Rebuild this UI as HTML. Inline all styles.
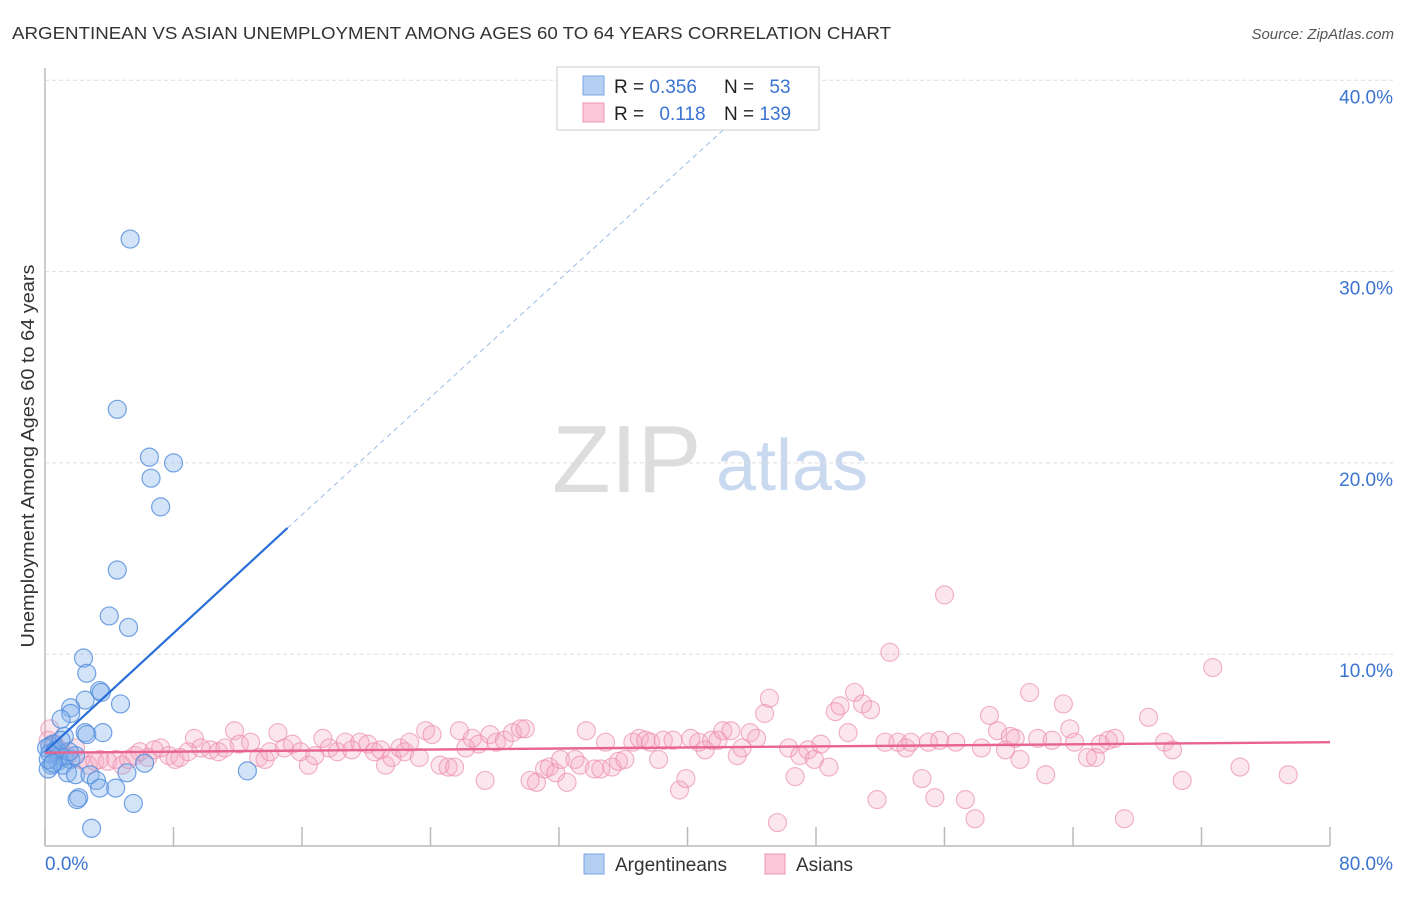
<!DOCTYPE html>
<html><head><meta charset="utf-8"><style>
body{margin:0;background:#fff;font-family:"Liberation Sans",sans-serif;}
svg text{font-family:"Liberation Sans",sans-serif;}
</style></head><body>
<svg id="chart" width="1406" height="892" xmlns="http://www.w3.org/2000/svg">
<text x="12" y="39" font-size="17.5" fill="#333" textLength="879" lengthAdjust="spacingAndGlyphs">ARGENTINEAN VS ASIAN UNEMPLOYMENT AMONG AGES 60 TO 64 YEARS CORRELATION CHART</text>
<text x="1394" y="39" font-size="15" fill="#555" font-style="italic" text-anchor="end">Source: ZipAtlas.com</text>
<g>
<text x="552" y="492" font-size="96" fill="#ddd" font-family="Liberation Serif">ZIP</text>
<text x="716" y="490" font-size="72" fill="#c9d9f0">atlas</text>
</g>
<g id="grid"></g>
<g id="axes"></g>
<g id="marks"></g>
<text transform="translate(34,456) rotate(-90)" font-size="18" fill="#333" text-anchor="middle" textLength="383" lengthAdjust="spacingAndGlyphs">Unemployment Among Ages 60 to 64 years</text>
<g>
<rect x="557" y="67" width="262" height="63" fill="#fff" stroke="#ccc"/>
<rect x="583" y="76" width="21" height="19" fill="#b5cff3" stroke="#7aa6e3"/>
<rect x="583" y="103" width="21" height="19" fill="#fac8d8" stroke="#ec94b0"/>
<text x="614" y="93" font-size="19" fill="#222">R = <tspan fill="#3a73d0">0.356</tspan></text>
<text x="724" y="93" font-size="19" fill="#222">N = <tspan fill="#3a73d0" dx="10">53</tspan></text>
<text x="614" y="120" font-size="19" fill="#222">R = <tspan fill="#3a73d0" dx="10">0.118</tspan></text>
<text x="724" y="120" font-size="19" fill="#222">N = <tspan fill="#3a73d0">139</tspan></text>
</g>
<g>
<rect x="584" y="854" width="20" height="20" fill="#b5cff3" stroke="#7aa6e3"/>
<text x="615" y="871" font-size="19" fill="#333">Argentineans</text>
<rect x="765" y="854" width="20" height="20" fill="#fac8d8" stroke="#ec94b0"/>
<text x="796" y="871" font-size="19" fill="#333">Asians</text>
</g>
</svg>
<script>
const yTicks=[10,20,30,40];
const yTickLabels=["10.0%","20.0%","30.0%","40.0%"];
const xTicks=[0,8,16,24,32,40,48,56,64,72,80];
const xEndLabels=["0.0%","80.0%"];
const blueX=[5.3,4.5,6.5,8.0,6.6,7.2,4.5,4.0,5.2,2.4,2.6,3.4,3.5,4.7,2.5,1.6,1.6,1.0,3.6,2.5,2.6,1.2,0.5,0.3,0.1,0.6,0.9,1.2,0.8,0.4,0.2,1.1,1.6,1.9,1.4,1.9,2.8,5.1,6.2,12.6,3.2,3.4,4.4,2.1,2.0,5.5,2.9,0.3,0.7,1.5,0.2,1.0,0.5];
const blueY=[31.7,22.8,20.3,20.0,19.2,17.7,14.4,12.0,11.4,9.8,9.0,8.1,8.0,7.4,7.6,7.2,6.9,6.6,5.9,5.9,5.8,5.7,5.3,5.2,5.1,4.9,4.7,4.6,4.4,4.2,4.0,4.2,4.5,4.7,3.8,3.7,3.7,3.8,4.3,3.9,3.4,3.0,3.0,2.5,2.4,2.2,0.9,4.8,5.0,4.9,4.5,5.5,4.3];
const pinkX=[0.3,0.2,0.6,0.9,1.4,1.9,2.2,2.7,3.1,3.4,3.9,4.4,4.8,5.2,5.6,5.9,6.4,6.8,7.2,7.7,8.1,8.4,8.9,9.3,9.7,10.3,10.8,11.2,11.8,12.1,12.8,13.3,13.7,14.0,14.5,14.9,15.4,15.9,16.4,16.8,17.3,17.7,18.2,18.7,19.1,19.6,20.1,20.5,20.9,21.2,21.6,22.1,22.4,22.7,23.3,23.7,24.1,24.6,25.1,25.5,25.8,26.2,26.6,27.0,27.4,27.7,28.1,28.6,29.1,29.6,29.9,30.2,30.6,31.1,31.4,31.8,32.1,32.5,33.0,33.3,33.7,34.2,34.6,34.9,35.3,35.7,36.1,36.6,37.0,37.4,37.7,38.2,38.5,39.1,39.5,39.9,40.2,40.7,41.1,41.5,41.9,42.2,42.7,43.1,43.4,43.9,44.3,44.8,45.1,45.6,46.3,46.7,47.0,47.5,47.9,48.3,48.8,49.2,49.5,50.0,50.4,50.9,51.4,51.8,52.3,52.6,53.1,53.6,53.9,54.6,55.0,55.4,55.7,56.0,56.7,57.3,57.9,58.3,58.8,59.3,59.8,60.1,60.4,60.7,61.3,61.8,62.3,62.7,63.4,63.8,64.1,64.9,65.4,65.7,66.2,66.6,67.2,68.7,69.7,70.2,70.8,72.7,74.4,77.4];
const pinkY=[6.1,5.5,5.3,5.0,4.7,5.1,4.5,4.2,4.4,4.5,4.4,4.5,4.2,4.5,4.7,4.9,4.6,5.0,5.1,4.7,4.5,4.6,4.9,5.6,5.1,5.0,4.9,5.1,6.0,5.3,5.4,4.6,4.5,4.9,5.9,5.1,5.3,4.9,4.2,4.7,5.6,5.1,4.9,5.4,5.0,5.4,5.3,4.9,5.0,4.2,4.6,5.1,4.9,5.4,4.6,6.0,5.8,4.2,4.1,4.1,6.0,5.1,5.6,5.3,3.4,5.8,5.4,5.5,5.9,6.1,6.1,3.4,3.3,4.0,4.1,3.8,4.5,3.3,4.5,4.2,6.0,4.0,4.0,5.4,4.1,4.4,4.5,5.4,5.6,5.5,5.4,4.5,5.5,5.5,2.9,3.5,5.6,5.4,5.0,5.5,5.5,6.0,6.0,4.7,5.1,5.9,5.6,6.9,7.7,1.2,5.1,3.6,4.7,5.0,4.5,5.3,4.1,7.0,7.3,5.9,8.0,7.4,7.1,2.4,5.4,10.1,5.4,5.1,5.4,3.5,5.4,2.5,5.5,13.1,5.4,2.4,1.4,5.1,6.8,6.0,5.0,5.7,5.6,4.5,8.0,5.6,3.7,5.5,7.4,6.1,5.4,4.6,4.6,5.3,5.5,5.6,1.4,6.7,5.4,5.0,3.4,9.3,4.1,3.7];
const blueTrend=[[0,4.9],[15.1,16.6]];
const blueTrendDash=[[15.1,16.6],[43.0,38.0]];
const pinkTrend=[[0,4.85],[80,5.4]];

const X0=45,X1=1330,Y0=845.5,PXY=19.13;
const sx=v=>X0+(v/80)*(X1-X0);
const sy=v=>Y0-v*PXY;
const NS="http://www.w3.org/2000/svg";
function mk(tag,attrs,parent){const e=document.createElementNS(NS,tag);for(const k in attrs)e.setAttribute(k,attrs[k]);parent.appendChild(e);return e;}
const grid=document.getElementById('grid'),axes=document.getElementById('axes'),marks=document.getElementById('marks');
yTicks.forEach((t,i)=>{
  const l=mk('line',{x1:X0,x2:1393,y1:sy(t),y2:sy(t),stroke:'#ddd','stroke-dasharray':'4,3'},grid);
  
  
  const tx=mk('text',{x:1393,y:sy(t)+23,'font-size':19,fill:'#3a73d0','text-anchor':'end'},axes);
  tx.textContent=yTickLabels[i];
  
  
});
const ya=mk('line',{x1:X0,x2:X0,y1:68,y2:846,stroke:'#bbb','stroke-width':1.5},axes);


const xa=mk('line',{x1:X0,x2:X1,y1:846,y2:846,stroke:'#bbb','stroke-width':1.5},axes);


xTicks.forEach(t=>{
  const l=mk('line',{x1:sx(t),x2:sx(t),y1:827,y2:846,stroke:'#bbb','stroke-width':1.5},axes);
  
  
});
const xl0=mk('text',{x:45,y:870,'font-size':19,fill:'#3a73d0'},axes);xl0.textContent=xEndLabels[0];


const xl1=mk('text',{x:1393,y:870,'font-size':19,fill:'#3a73d0','text-anchor':'end'},axes);xl1.textContent=xEndLabels[1];



pinkX.forEach((v,i)=>{
  const c=mk('circle',{cx:sx(v),cy:sy(pinkY[i]),r:9,fill:'rgba(245,165,195,0.28)',stroke:'rgba(235,140,170,0.65)','stroke-width':1.2},marks);
  
  
});
blueX.forEach((v,i)=>{
  const c=mk('circle',{cx:sx(v),cy:sy(blueY[i]),r:9,fill:'rgba(130,175,235,0.35)',stroke:'rgba(80,140,220,0.8)','stroke-width':1.2},marks);
  
  
});
const bt=mk('line',{x1:sx(blueTrend[0][0]),y1:sy(blueTrend[0][1]),x2:sx(blueTrend[1][0]),y2:sy(blueTrend[1][1]),stroke:'#2a6fd8','stroke-width':2.2},marks);


const bd=mk('line',{x1:sx(blueTrendDash[0][0]),y1:sy(blueTrendDash[0][1]),x2:sx(blueTrendDash[1][0]),y2:sy(blueTrendDash[1][1]),stroke:'#9bbbe6','stroke-width':1,'stroke-dasharray':'5,4'},marks);


const pt=mk('line',{x1:sx(pinkTrend[0][0]),y1:sy(pinkTrend[0][1]),x2:sx(pinkTrend[1][0]),y2:sy(pinkTrend[1][1]),stroke:'#e8648e','stroke-width':2.4},marks);


</script>
</body></html>
